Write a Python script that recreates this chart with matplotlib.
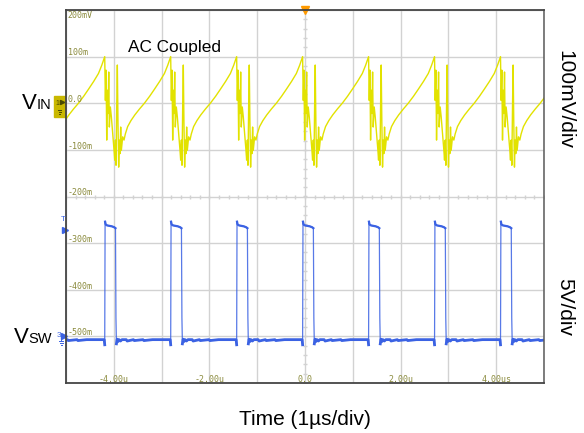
import matplotlib
matplotlib.use("Agg")
import matplotlib.pyplot as plt
from matplotlib.patches import Rectangle
import numpy as np

# scope settings
CH1_MV_PER_DIV = 100.0
CH1_ZERO_DIV = 2.0
CH2_V_PER_DIV = 5.0
CH2_ZERO_DIV = -3.0

CYCLE_STARTS = [-5.57, -4.19, -2.81, -1.43, -0.05, 1.33, 2.71, 4.09]

# one cycle of V_IN (AC coupled), time offset from cycle start (us) and mV
VIN_T = [0.0, 0.014, 0.028, 0.042, 0.056, 0.070, 0.084, 0.097, 0.118, 0.139,
         0.167, 0.195, 0.209, 0.223, 0.237, 0.251, 0.264, 0.278, 0.292, 0.306,
         0.320, 0.334, 0.348, 0.376, 0.404, 0.431, 0.48, 0.55, 0.63, 0.73,
         0.83, 0.94, 1.04, 1.15, 1.25, 1.32]
VIN_MV = [100, 6, 71, -79, 28, -22, 67, -51, -8, -29,
          -65, -101, -122, -79, -133, -8, 82, -44, -137, -79,
          -108, -51, -101, -72, -79, -66, -50, -37, -25, -12,
          0, 15, 30, 47, 64, 82]

# one cycle of V_SW, time offset (us) and volts
VSW_T = [-0.01, 0.0, 0.008, 0.02, 0.05, 0.1, 0.15, 0.2, 0.225, 0.235,
         0.245, 0.26, 0.28, 0.3, 0.33, 0.36, 0.45, 0.47, 0.6, 0.62,
         0.8, 0.82, 1.0, 1.2, 1.36]
VSW_V = [-0.35, -0.9, 12.3, 12.0, 11.9, 11.85, 11.8, 11.7, 11.6, 2.0,
         -0.8, -0.3, -0.55, -0.35, -0.5, -0.35, -0.35, -0.5, -0.35, -0.45,
         -0.35, -0.45, -0.35, -0.35, -0.35]

CH1_LABELS = ["200mV", "100m", "0.0", "-100m", "-200m", "-300m", "-400m", "-500m"]
TIME_LABELS = {-4: "-4.00u", -2: "-2.00u", 0: "0.0", 2: "2.00u", 4: "4.00us"}

YELLOW = "#e2e200"
BLUE = "#3b62e3"
OLIVE = "#8a8a3c"
GRID = "#d2d2d2"

plt.rcParams["font.family"] = ["Liberation Sans", "DejaVu Sans"]

t_in = np.concatenate([s + np.array(VIN_T) for s in CYCLE_STARTS])
v_in = np.tile(VIN_MV, len(CYCLE_STARTS)).astype(float)
t_sw = np.concatenate([s + np.array(VSW_T) for s in CYCLE_STARTS])
v_sw = np.tile(VSW_V, len(CYCLE_STARTS)).astype(float)

fig = plt.figure(figsize=(5.84, 4.33), dpi=100)
ax = fig.add_axes([66 / 584, 1 - 383 / 433, 478 / 584, 373 / 433])
ax.set_xlim(-5, 5)
ax.set_ylim(-4, 4)
ax.set_xticks(range(-5, 6))
ax.set_yticks(range(-4, 5))
ax.tick_params(length=0, labelbottom=False, labelleft=False)
ax.grid(True, color=GRID, lw=1.0)
ax.set_axisbelow(True)
for side in ["top", "bottom", "left"]:
    ax.spines[side].set_color("#454545")
    ax.spines[side].set_linewidth(1.3)
ax.spines["right"].set_color("#5a5a5a")
ax.spines["right"].set_linewidth(1.1)

# minor ticks on the center lines
minor = np.arange(-5, 5.01, 0.2)
ax.plot(minor, np.zeros_like(minor), ls="none", marker="|", ms=3.5, color=GRID, mew=1)
minor_y = np.arange(-4, 4.01, 0.2)
ax.plot(np.zeros_like(minor_y), minor_y, ls="none", marker="_", ms=3.5, color=GRID, mew=1)

# traces
ax.plot(t_in, v_in / CH1_MV_PER_DIV + CH1_ZERO_DIV, color=YELLOW, lw=1.0)
sw_div = v_sw / CH2_V_PER_DIV + CH2_ZERO_DIV
ax.plot(t_sw, sw_div, color=BLUE, lw=0.9, alpha=0.85)
ax.plot(t_sw, np.where(v_sw < 1.0, sw_div, np.nan), color=BLUE, lw=2.0)
ax.plot(t_sw, np.where(v_sw > 10.0, sw_div, np.nan), color=BLUE, lw=1.6)

# scope grid labels
for i, lab in enumerate(CH1_LABELS):
    y = 4 - i
    y = 3.89 if i == 0 else y + 0.08
    ax.text(-4.96, y, lab, fontsize=6, color=OLIVE, family="DejaVu Sans Mono",
            va="center", ha="left")
for x, lab in TIME_LABELS.items():
    ax.text(x, -3.92, lab, fontsize=6, color=OLIVE, family="DejaVu Sans Mono",
            va="center", ha="center")

# trigger marker on top
ax.plot([0], [4], marker="v", ms=6, color="#ff9a00", clip_on=False)

# CH1 ground marker box
ax.add_patch(Rectangle((-5.25, 1.70), 0.23, 0.455, color="#c9b800", clip_on=False))
ax.text(-5.22, 2.0, "1", fontsize=5, color="#4a4a00", va="center", ha="left")
ax.plot([-5.09], [2.03], marker=">", ms=3, color="#4a4a00", clip_on=False)
for k, w in enumerate([0.07, 0.045, 0.02]):
    ax.plot([-5.13 - w / 2, -5.13 + w / 2], [1.86 - k * 0.04] * 2, color="#4a4a00",
            lw=0.7, clip_on=False)

# CH2 ground marker
ax.text(-5.2, -2.99, "3", fontsize=6, color=BLUE, va="center", ha="left")
ax.plot([-5.05], [-2.99], marker=">", ms=4, color=BLUE, clip_on=False)
ax.plot([-5.1, -5.1], [-2.99, -3.1], color=BLUE, lw=0.7, clip_on=False)
for k, w in enumerate([0.09, 0.06, 0.03]):
    ax.plot([-5.1 - w / 2, -5.1 + w / 2], [-3.1 - k * 0.04] * 2, color=BLUE,
            lw=0.7, clip_on=False)

# trigger level marker
ax.text(-5.06, -0.5, "T", fontsize=6, color=BLUE, va="center", ha="center")
ax.plot([-5.03], [-0.72], marker=">", ms=4, color=BLUE, clip_on=False)

# annotation text
def fx(px):
    return px / 584

def fy(py):
    return 1 - py / 433

fig.text(fx(128), fy(52), "AC Coupled", fontsize=12.4, va="baseline", ha="left")
fig.text(fx(304.5), fy(425), "Time (1µs/div)", fontsize=15, va="baseline", ha="center")
fig.text(fx(565), fy(100), "100mV/div", fontsize=15, rotation=270, va="center", ha="center")
fig.text(fx(565), fy(307), "5V/div", fontsize=15, rotation=270, va="center", ha="center")

fig.text(fx(22), fy(109), "V", fontsize=16, va="baseline", ha="left")
fig.text(fx(37), fy(109), "IN", fontsize=10.5, va="baseline", ha="left")
fig.text(fx(14), fy(343), "V", fontsize=16, va="baseline", ha="left")
fig.text(fx(28), fy(343), "SW", fontsize=10.5, va="baseline", ha="left")

fig.savefig("out.png", dpi=100)
